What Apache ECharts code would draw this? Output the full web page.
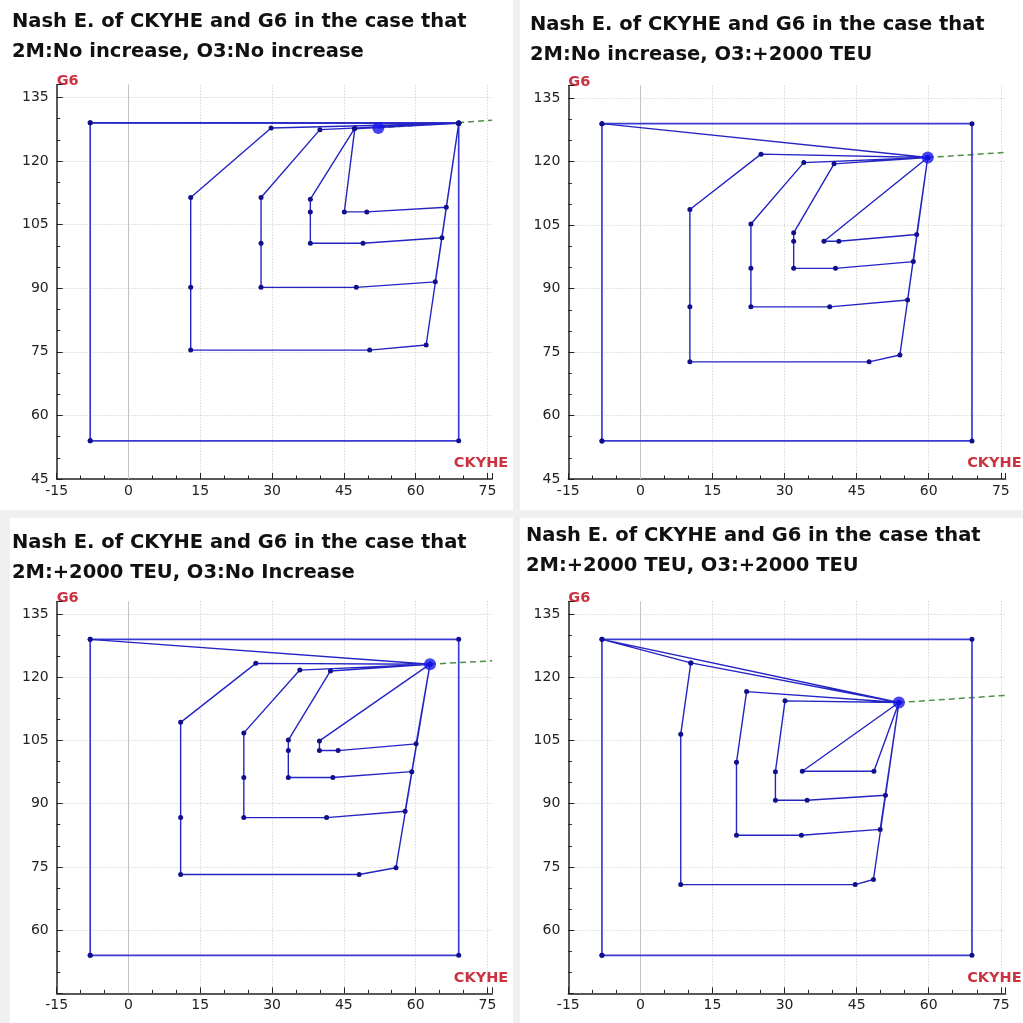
<!DOCTYPE html>
<html>
<head>
<meta charset="utf-8">
<title>Nash E. of CKYHE and G6</title>
<script src="https://cdn.jsdelivr.net/npm/echarts@6/dist/echarts.min.js"></script>
<style>
  html, body { margin: 0; padding: 0; background: #fff; }
  #main { width: 1023px; height: 1023px; }
</style>
</head>
<body>
<div id="main"></div>
<script>
// titles of the four cases
var titles = [
  'Nash E. of CKYHE and G6 in the case that\n2M:No increase, O3:No increase',
  'Nash E. of CKYHE and G6 in the case that\n2M:No increase, O3:+2000 TEU',
  'Nash E. of CKYHE and G6 in the case that\n2M:+2000 TEU, O3:No Increase',
  'Nash E. of CKYHE and G6 in the case that\n2M:+2000 TEU, O3:+2000 TEU'
];

// strategy box (same in all cases)
var bounds = [[-8, 54], [-8, 129], [69, 129], [69, 54], [-8, 54]];

// best response paths
var path1 = [
  [-8, 129], [69, 128.9],
  [29.8, 127.8], [13.0, 111.4], [13.0, 90.2], [13.0, 75.4], [50.4, 75.4], [62.2, 76.6], [69, 128.9],
  [40.0, 127.4], [27.7, 111.4], [27.7, 100.6], [27.7, 90.2], [47.6, 90.2], [64.1, 91.5], [69, 128.9],
  [47.2, 127.6], [38.0, 111.0], [38.0, 108.0], [38.0, 100.6], [49.0, 100.6], [65.5, 101.9], [69, 128.9],
  [47.3, 127.7], [45.1, 108.0], [49.8, 108.0], [66.4, 109.1], [69, 128.9]
];
var path2 = [
  [-8, 129], [59.8, 121.0],
  [25.1, 121.8], [10.3, 108.7], [10.3, 85.7], [10.3, 72.7], [47.6, 72.7], [54.0, 74.3], [59.8, 121.0],
  [34.0, 119.8], [23.0, 105.3], [23.0, 94.8], [23.0, 85.7], [39.4, 85.7], [55.6, 87.3], [59.8, 121.0],
  [40.3, 119.5], [31.9, 103.2], [31.9, 101.2], [31.9, 94.8], [40.6, 94.8], [56.8, 96.4], [59.8, 121.0],
  [38.2, 101.2], [41.3, 101.2], [57.5, 102.8], [59.8, 121.0]
];
var path3 = [
  [-8, 129], [63.0, 123.1],
  [26.6, 123.3], [10.9, 109.3], [10.9, 86.7], [10.9, 73.2], [48.2, 73.2], [55.9, 74.8], [63.0, 123.1],
  [35.8, 121.7], [24.1, 106.8], [24.1, 96.2], [24.1, 86.7], [41.4, 86.7], [57.8, 88.2], [63.0, 123.1],
  [42.2, 121.5], [33.4, 105.1], [33.4, 102.6], [33.4, 96.2], [42.7, 96.2], [59.2, 97.6], [63.0, 123.1],
  [39.9, 104.9], [39.9, 102.6], [43.8, 102.6], [60.1, 104.2], [63.0, 123.1]
];
var path4 = [
  [10.5, 123.4], [-8, 129], [53.8, 114.0],
  [10.5, 123.4], [8.4, 106.5], [8.4, 70.8], [44.7, 70.8], [48.5, 72.0], [53.8, 114.0],
  [22.1, 116.6], [20.0, 99.8], [20.0, 82.5], [33.5, 82.5], [49.9, 83.9], [53.8, 114.0],
  [30.1, 114.4], [28.1, 97.6], [28.1, 90.8], [34.7, 90.8], [51.0, 92.0], [53.8, 114.0],
  [33.7, 97.7], [48.6, 97.7], [53.8, 114.0]
];

// equilibrium points
var eq1 = [52.2, 127.8];
var eq2 = [59.8, 121.0];
var eq3 = [63.0, 123.1];
var eq4 = [53.8, 114.0];

// green dashed guide leaving each equilibrium
var guide1 = [[52.2, 127.8], [76, 129.6]];
var guide2 = [[59.8, 121.0], [76, 122.2]];
var guide3 = [[63.0, 123.1], [76, 123.9]];
var guide4 = [[53.8, 114.0], [76, 115.7]];

var paths = [path1, path2, path3, path4];
var eqs = [eq1, eq2, eq3, eq4];
var guides = [guide1, guide2, guide3, guide4];

// panel boxes in pixels
var grids = [
  { left: 56.7, top: 84.7, width: 435.5, height: 394.3 },
  { left: 568.3, top: 85.6, width: 437.3, height: 393.4 },
  { left: 56.7, top: 601.4, width: 435.5, height: 391.9 },
  { left: 568.3, top: 601.4, width: 437.3, height: 391.9 }
];
var titlePos = [
  { left: 12, top: 7 },
  { left: 530, top: 10 },
  { left: 12, top: 528 },
  { left: 526, top: 521 }
];
var showMin45 = [true, true, false, false];

var myChart = echarts.init(document.getElementById('main'));

var option = {
  backgroundColor: '#fff',
  animation: false,
  title: [],
  grid: [],
  xAxis: [],
  yAxis: [],
  series: [],
  graphic: [
    { type: 'rect', shape: { x: 513, y: 0, width: 7, height: 1023 }, style: { fill: '#f0f0f0' }, z: -10 },
    { type: 'rect', shape: { x: 0, y: 510, width: 1023, height: 8 }, style: { fill: '#f0f0f0' }, z: -10 },
    { type: 'rect', shape: { x: 0, y: 518, width: 10, height: 505 }, style: { fill: '#f0f0f0' }, z: -10 }
  ]
};

for (var i = 0; i < 4; i++) {
  option.title.push({
    text: titles[i],
    left: titlePos[i].left,
    top: titlePos[i].top,
    padding: 0,
    textStyle: {
      fontFamily: 'DejaVu Sans',
      fontWeight: 'bold',
      fontSize: 19.5,
      lineHeight: 30,
      color: '#111'
    }
  });
  option.grid.push(grids[i]);
  option.xAxis.push({
    type: 'value',
    gridIndex: i,
    min: -15,
    max: 76,
    interval: 15,
    name: 'CKYHE',
    nameLocation: 'end',
    nameGap: 16,
    nameTextStyle: {
      color: '#cc3340',
      fontFamily: 'DejaVu Sans',
      fontWeight: 'bold',
      fontSize: 14.5,
      align: 'right',
      verticalAlign: 'bottom',
      padding: [0, 0, 8, 0]
    },
    axisLine: { onZero: false, lineStyle: { color: '#222', width: 1.5 } },
    axisTick: { inside: true, length: 6, lineStyle: { color: '#222' } },
    minorTick: { show: true, splitNumber: 3, length: 3.5, lineStyle: { color: '#222' } },
    axisLabel: {
      color: '#222',
      fontFamily: 'DejaVu Sans',
      fontSize: 14,
      margin: 5,
      showMaxLabel: false
    },
    splitLine: {
      show: true,
      showMinLine: false,
      showMaxLine: false,
      lineStyle: { color: '#c6c6c6', type: [1, 2] }
    }
  });
  option.yAxis.push({
    type: 'value',
    gridIndex: i,
    min: 45,
    max: 138,
    interval: 15,
    name: 'G6',
    nameLocation: 'end',
    nameGap: 3,
    nameTextStyle: {
      color: '#cc3340',
      fontFamily: 'DejaVu Sans',
      fontWeight: 'bold',
      fontSize: 14.5,
      align: 'left',
      verticalAlign: 'middle'
    },
    axisLine: { show: true, onZero: false, lineStyle: { color: '#222', width: 1.5 } },
    axisTick: { show: true, inside: true, length: 6, lineStyle: { color: '#222' } },
    minorTick: { show: true, splitNumber: 3, length: 3.5, lineStyle: { color: '#222' } },
    axisLabel: {
      color: '#222',
      fontFamily: 'DejaVu Sans',
      fontSize: 14,
      margin: 8,
      showMaxLabel: false,
      showMinLabel: showMin45[i]
    },
    splitLine: {
      show: true,
      showMinLine: false,
      showMaxLine: false,
      lineStyle: { color: '#c6c6c6', type: [1, 2] }
    }
  });

  // box + zero line
  option.series.push({
    type: 'line',
    xAxisIndex: i,
    yAxisIndex: i,
    data: bounds,
    symbol: 'circle',
    symbolSize: 5,
    itemStyle: { color: '#10108a' },
    lineStyle: { color: '#3a3ad4', width: 1.7 },
    z: 3,
    markLine: {
      silent: true,
      symbol: 'none',
      label: { show: false },
      lineStyle: { color: '#c4c4c4', type: 'solid', width: 1 },
      data: [{ xAxis: 0 }],
      z: 1
    }
  });
  // path
  option.series.push({
    type: 'line',
    xAxisIndex: i,
    yAxisIndex: i,
    data: paths[i],
    symbol: 'circle',
    symbolSize: 5,
    itemStyle: { color: '#10108a' },
    lineStyle: { color: '#2424c4', width: 1.4 },
    z: 4
  });
  // guide
  option.series.push({
    type: 'line',
    xAxisIndex: i,
    yAxisIndex: i,
    data: guides[i],
    symbol: 'none',
    lineStyle: { color: '#4d8f45', width: 1.5, type: [6, 4] },
    z: 2
  });
  // equilibrium
  option.series.push({
    type: 'scatter',
    xAxisIndex: i,
    yAxisIndex: i,
    data: [eqs[i]],
    symbolSize: 12,
    itemStyle: { color: '#1515f0' },
    z: 5
  });
}

myChart.setOption(option);
window.addEventListener('resize', function () {
  myChart.resize();
});
</script>
</body>
</html>
